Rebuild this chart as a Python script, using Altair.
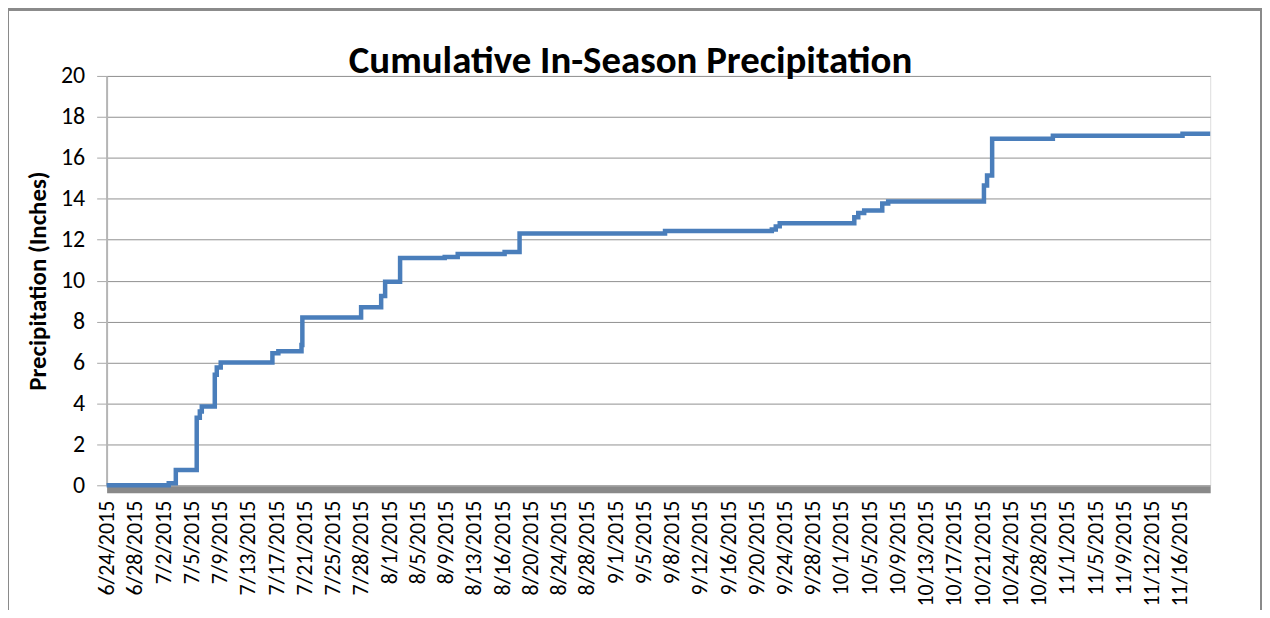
import altair as alt
import pandas as pd

# Category-axis labels (Excel category axis, evenly spaced)
date_labels = ["6/24/2015", "6/28/2015", "7/2/2015", "7/5/2015", "7/9/2015", "7/13/2015",
               "7/17/2015", "7/21/2015", "7/25/2015", "7/28/2015", "8/1/2015", "8/5/2015",
               "8/9/2015", "8/13/2015", "8/16/2015", "8/20/2015", "8/24/2015", "8/28/2015",
               "9/1/2015", "9/5/2015", "9/8/2015", "9/12/2015", "9/16/2015", "9/20/2015",
               "9/24/2015", "9/28/2015", "10/1/2015", "10/5/2015", "10/9/2015", "10/13/2015",
               "10/17/2015", "10/21/2015", "10/24/2015", "10/28/2015", "11/1/2015", "11/5/2015",
               "11/9/2015", "11/12/2015", "11/16/2015"]

# Position along the category axis (in label-index units) where each new total starts
step_pos = [0, 2.20, 2.45, 3.19, 3.30, 3.37, 3.83, 3.90, 4.04, 5.87, 6.08, 6.90, 6.93,
            9.01, 9.72, 9.86, 10.39, 11.97, 12.43, 14.09, 14.62, 19.77, 23.55, 23.69,
            23.83, 26.47, 26.61, 26.82, 27.46, 27.67, 31.06, 31.17, 31.35, 33.50, 38.09, 39.07]
# Cumulative precipitation (inches)
cum_precip = [0, 0.1, 0.75, 3.3, 3.6, 3.85, 5.4, 5.75, 6.0, 6.45, 6.55, 6.85, 8.2,
              8.7, 9.25, 9.95, 11.1, 11.15, 11.3, 11.4, 12.3, 12.42, 12.5, 12.65,
              12.8, 13.1, 13.3, 13.43, 13.77, 13.87, 14.65, 15.13, 16.93, 17.08, 17.17, 17.17]

y_ticks = list(range(0, 21, 2))
title_text = "Cumulative In-Season Precipitation"
y_title = "Precipitation (Inches)"

df = pd.DataFrame({"pos": step_pos, "precip": cum_precip})

W, H = 1108, 411
FONT = "Calibri, Carlito, Lato"

label_array = "[" + ",".join("'" + s + "'" for s in date_labels) + "]"

x_enc = alt.X(
    "pos:Q",
    scale=alt.Scale(domain=[0, step_pos[-1]], nice=False, zero=False),
    axis=alt.Axis(
        values=list(range(len(date_labels))),
        labelExpr=label_array + "[datum.value]",
        title=None,
        grid=False,
        ticks=False,
        tickSize=0,
        labelAngle=270,
        labelAlign="right",
        labelBaseline="middle",
        labelPadding=11,
        labelFontSize=22,
        labelFont=FONT,
        labelColor="#000000",
        labelOverlap=False,
        labelFlush=False,
        domainColor="#898989",
        domainWidth=7,
        offset=4,
    ),
)

y_enc = alt.Y(
    "precip:Q",
    scale=alt.Scale(domain=[0, 20], nice=False),
    axis=alt.Axis(
        values=y_ticks,
        title=y_title,
        titleFont=FONT,
        titleFontSize=25,
        titleFontWeight="bold",
        titleColor="#000000",
        titleAngle=270,
        titleAlign="center",
        titleBaseline="middle",
        titleX=-69,
        titleY=H / 2,
        labelFont=FONT,
        labelFontSize=24,
        labelColor="#000000",
        labelPadding=12,
        tickSize=10,
        tickColor="#a6a6a6",
        domainColor="#b5b5b5",
        domainWidth=2,
        grid=True,
        gridColor="#909090",
        gridWidth=1,
    ),
)

frame = alt.Chart(df).mark_rect(
    fill=None, fillOpacity=0, stroke="#8a8a8a", strokeWidth=2
).encode(
    x=alt.value(-99), x2=alt.value(W + 51), y=alt.value(-67), y2=alt.value(H + 300)
)

line = alt.Chart(df).mark_line(
    interpolate="step-after", color="#4a7ebb", strokeWidth=4.5, strokeJoin="miter"
).encode(x=x_enc, y=y_enc)

chart = alt.layer(frame, line).properties(
    width=W,
    height=H,
    title=alt.TitleParams(
        text=title_text,
        font=FONT,
        fontSize=39,
        fontWeight="bold",
        color="#000000",
        anchor="middle",
        frame="group",
        baseline="alphabetic",
        offset=0,
        dx=-28,
        dy=104,
    ),
    autosize=alt.AutoSizeParams(type="none"),
    padding={"left": 99, "top": 67, "right": 52, "bottom": 124},
).configure_view(stroke=None).configure(background="white")

chart.save("out.html", embed_options={"renderer": "svg", "actions": False})
